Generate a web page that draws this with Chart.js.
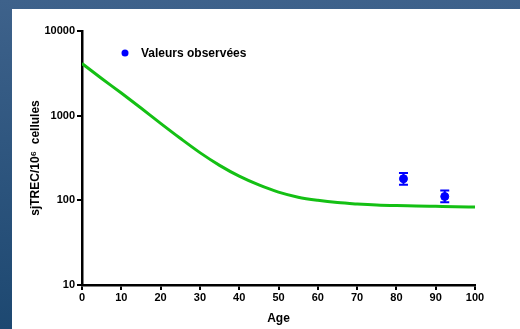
<!DOCTYPE html>
<html>
<head>
<meta charset="utf-8">
<script src="https://cdn.jsdelivr.net/npm/chart.js@4"></script>
<style>
  html, body { margin: 0; padding: 0; }
  body { width: 520px; height: 329px; overflow: hidden;
         background: linear-gradient(to bottom, #3e628b, #1d4871); position: relative; }
  #panel { position: absolute; left: 12px; top: 9px; width: 508px; height: 320px; background: #fff; }
  #chartbox { position: relative; width: 508px; height: 320px; }
</style>
</head>
<body>
<div id="panel"><div id="chartbox"><canvas id="myChart"></canvas></div></div>
<script>
// model curve
let curveAges = [0, 5, 10, 15, 20, 25, 30, 35, 40, 45, 50, 55, 60, 65, 70, 75, 80, 85, 90, 95, 100];
let curveValues = [4130, 2750, 1850, 1230, 810, 540, 366, 259, 193, 152, 125, 109, 100, 94, 90.5, 88, 86.7, 86, 85, 84, 83.5];

// observed values with error bars
let obsAges = [81.8, 92.3];
let obsValues = [180, 111];
let obsLow = [153, 95];
let obsHigh = [211, 131];

let legendText = 'Valeurs observées';
let xTitle = 'Age';
let yTitle = 'sjTREC/10\u2076  cellules';
let yTicks = [10, 100, 1000, 10000];

const tickFont = { family: 'Arial, "Liberation Sans"', size: 11, weight: 'bold' };

const errorBars = {
    id: 'errorBars',
    afterDatasetsDraw(chart) {
        const c = chart.ctx;
        const xs = chart.scales.x, ys = chart.scales.y;
        c.save();
        c.strokeStyle = '#0000ff';
        c.lineWidth = 2;
        for (let i = 0; i < obsAges.length; i++) {
            let px = xs.getPixelForValue(obsAges[i]);
            let top = ys.getPixelForValue(obsHigh[i]);
            let bot = ys.getPixelForValue(obsLow[i]);
            c.beginPath();
            c.moveTo(px, top); c.lineTo(px, bot);
            c.moveTo(px - 4.5, top); c.lineTo(px + 4.5, top);
            c.moveTo(px - 4.5, bot); c.lineTo(px + 4.5, bot);
            c.stroke();
        }
        // legend
        let lx = chart.chartArea.left + 43, ly = chart.chartArea.top + 22;
        c.fillStyle = '#0000ff';
        c.beginPath(); c.arc(lx, ly, 3.5, 0, Math.PI * 2); c.fill();
        c.fillStyle = '#000';
        c.font = 'bold 12px Arial, "Liberation Sans"';
        c.textBaseline = 'middle';
        c.fillText(legendText, lx + 16, ly + 1);
        c.restore();
    }
};

const ctx = document.getElementById('myChart');
const myChart = new Chart(ctx, {
    type: 'line',
    data: {
        datasets: [{
            label: 'Modèle',
            data: curveAges.map((a, i) => ({ x: a, y: curveValues[i] })),
            borderColor: '#14c014',
            borderWidth: 3,
            pointRadius: 0,
            cubicInterpolationMode: 'monotone',
            fill: false
        }, {
            type: 'scatter',
            label: legendText,
            data: obsAges.map((a, i) => ({ x: a, y: obsValues[i] })),
            backgroundColor: '#0000ff',
            borderColor: '#0000ff',
            pointRadius: 4
        }]
    },
    options: {
        responsive: true,
        maintainAspectRatio: false,
        animation: false,
        layout: { padding: { left: 0, top: 22, right: 45, bottom: 0 } },
        plugins: { legend: { display: false }, tooltip: { enabled: false } },
        scales: {
            x: {
                type: 'linear', min: 0, max: 100,
                ticks: { stepSize: 10, color: '#000', font: tickFont, padding: 1, maxRotation: 0 },
                grid: { drawOnChartArea: false, drawTicks: true, tickLength: 5, color: '#000', lineWidth: 2 },
                border: { color: '#000', width: 2.5 },
                title: { display: true, text: xTitle, color: '#000',
                         font: { family: 'Arial, "Liberation Sans"', size: 12, weight: 'bold' }, padding: { top: 0, bottom: 3 } },
                afterFit(scale) { scale.height = 44; }
            },
            y: {
                type: 'logarithmic', min: 10, max: 10000,
                afterBuildTicks(scale) { scale.ticks = yTicks.map(v => ({ value: v })); },
                ticks: { color: '#000', font: tickFont, padding: 2, callback: v => String(v) },
                grid: { drawOnChartArea: false, drawTicks: true, tickLength: 5, color: '#000', lineWidth: 2 },
                border: { color: '#000', width: 2.5 },
                title: { display: true, text: yTitle, color: '#000',
                         font: { family: 'Arial, "Liberation Sans"', size: 12, weight: 'bold' }, padding: { top: 16, bottom: 0 } },
                afterFit(scale) { scale.width = 70; }
            }
        }
    },
    plugins: [errorBars]
});
</script>
</body>
</html>
